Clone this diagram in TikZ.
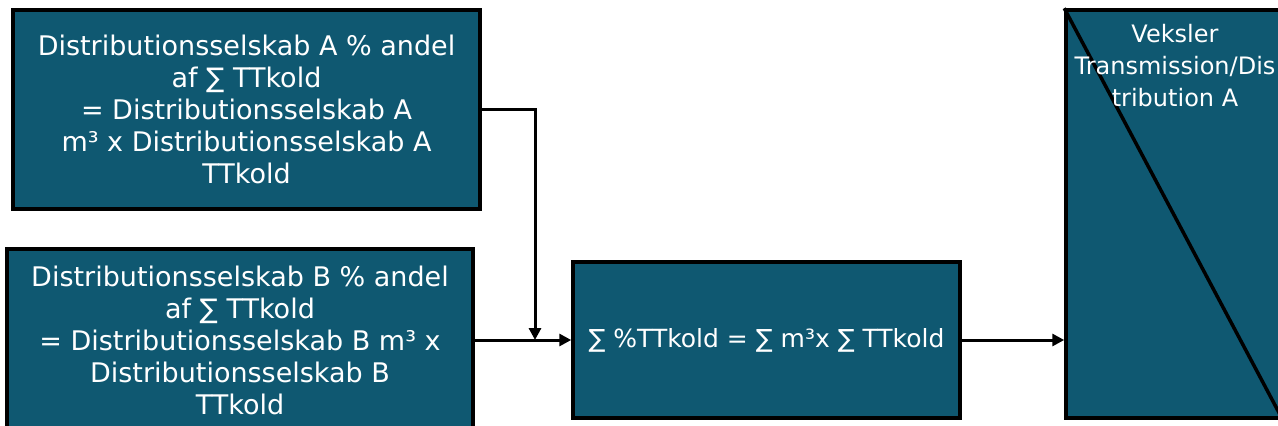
\documentclass[tikz,border=0pt]{standalone}
\usepackage{fontspec}
\setmainfont{DejaVu Sans}
\usetikzlibrary{arrows.meta}
\definecolor{boxteal}{HTML}{0F5871}
\tikzset{
  flowbox/.style={draw=black, line width=3.5pt, fill=boxteal, text=white, inner sep=0pt,
    align=center, font=\fontsize{27}{32}\selectfont},
  boxtext/.style={text=white, inner sep=0pt, align=center, font=\fontsize{24}{32}\selectfont},
  arr/.style={line width=3pt, -{Triangle[length=12pt,width=12pt]}}
}
\begin{document}
\begin{tikzpicture}[x=1pt,y=-1pt]
\useasboundingbox (0,0) rectangle (1278,426);
\fill[white] (0,0) rectangle (1278,426);
\clip (0,0) rectangle (1278,426);
\node[flowbox, minimum width=467pt, minimum height=199pt] (A) at (246.5,109.5)
  {Distributionsselskab A \% andel\\af ∑ TTkold\\= Distributionsselskab A\\m³ x Distributionsselskab A\\TTkold};
\node[flowbox, minimum width=466pt, minimum height=182pt] (B) at (240,340)
  {Distributionsselskab B \% andel\\af ∑ TTkold\\= Distributionsselskab B m³ x\\Distributionsselskab B\\TTkold};
\node[flowbox, minimum width=387pt, minimum height=156pt, font=\fontsize{25}{32}\selectfont] (C) at (766.5,340)
  {∑ \%TTkold = ∑ m³x ∑ TTkold};
\node[flowbox, minimum width=215pt, minimum height=408pt] (D) at (1173.5,214) {};
\draw[line width=3.5pt] (D.north west) -- (D.south east);
\node[boxtext, anchor=north] (Dt) at (1175,24) {Veksler\\Transmission/Dis\\tribution A};
\coordinate (J) at (535,340);
\draw[arr] (A.east) -| (J);
\draw[arr] (B.east) -- (C.west);
\draw[arr] (C.east) -- (D.west |- C.east);
\end{tikzpicture}
\end{document}
